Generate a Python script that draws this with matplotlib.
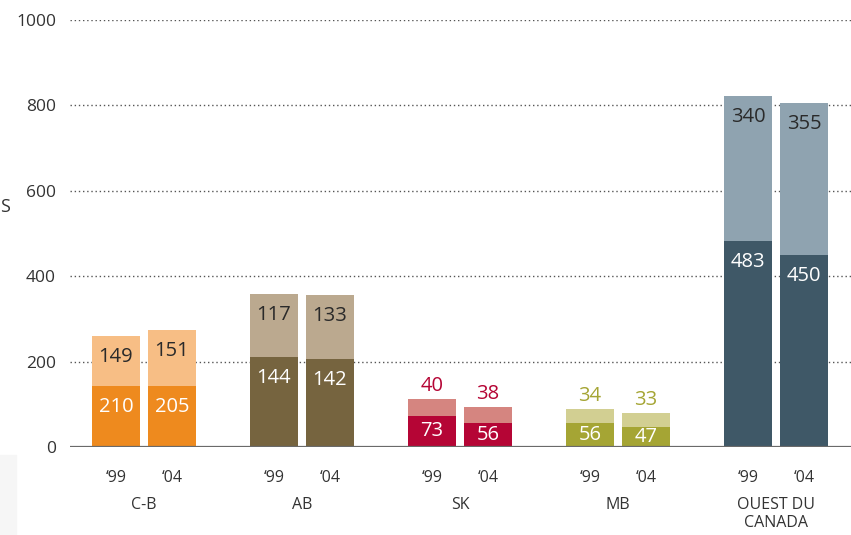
import matplotlib
matplotlib.use("Agg")
import matplotlib.pyplot as plt
from matplotlib.patches import Rectangle

plt.rcParams['font.family'] = ['Open Sans', 'DejaVu Sans']

# ---- data ----
categories = ["C-B", "AB", "SK", "MB", "OUEST DU\nCANADA"]
years = ["‘99", "‘04"]
# bar heights as drawn (lower / upper segment), per category: ['99, '04]
bottom_vals = [[144, 142], [210, 205], [73, 56], [56, 47], [483, 450]]
top_vals = [[117, 133], [149, 151], [40, 38], [34, 33], [340, 355]]
# numbers printed on the bars, as in the reference
bottom_labels = [["210", "205"], ["144", "142"], ["73", "56"], ["56", "47"], ["483", "450"]]
top_labels = [["149", "151"], ["117", "133"], ["40", "38"], ["34", "33"], ["340", "355"]]
yticks = [0, 200, 400, 600, 800, 1000]

bottom_colors = ["#EE8A1E", "#76643F", "#B50535", "#A5A534", "#3F5867"]
top_colors = ["#F7BE85", "#BBA98F", "#D58580", "#D2CF92", "#8FA3B0"]
outside_top = [False, False, True, True, False]

W, H = 851, 535
fig = plt.figure(figsize=(W / 100, H / 100), dpi=100)
ax = fig.add_axes([70 / W, (H - 447) / H, 1 - 70 / W, (447 - 20) / H])
ax.set_ylim(0, 1000)
ax.set_xlim(-0.468, 4.475)

bw = 48 / 158
off = 28 / 158
pxu = 427 / 1000  # pixels per unit

for i, cat in enumerate(categories):
    for j in range(2):
        x = i + (-off if j == 0 else off)
        b = bottom_vals[i][j]
        t = top_vals[i][j]
        ax.bar(x, b, width=bw, color=bottom_colors[i], zorder=3)
        ax.bar(x, t, width=bw, bottom=b, color=top_colors[i], zorder=3)
        # lower label
        yb = max(b - 21 / pxu, b / 2)
        ax.text(x, yb, bottom_labels[i][j], ha='center', va='center',
                color='white', fontsize=14.5, zorder=4)
        if outside_top[i]:
            ax.text(x, b + t + 6, top_labels[i][j], ha='center', va='bottom',
                    color=bottom_colors[i], fontsize=14.5, zorder=4)
        else:
            yt = max(b + t - 21 / pxu, b + t / 2)
            ax.text(x, yt, top_labels[i][j], ha='center', va='center',
                    color='#2a2a2a', fontsize=14.5, zorder=4)
        ax.text(x, -31 / pxu, years[j], ha='center', va='center',
                color='#333333', fontsize=11.5, clip_on=False)
    ax.text(i, -50 / pxu, cat, ha='center', va='top', color='#333333',
            fontsize=11.5, linespacing=1.2, clip_on=False)

ax.set_yticks(yticks)
ax.set_yticklabels([str(v) for v in yticks], fontsize=12.5, color='#333333')
ax.tick_params(axis='y', length=0, pad=10)
ax.tick_params(axis='x', bottom=False, labelbottom=False)
for v in yticks[1:]:
    ax.axhline(v, color='#555555', lw=1.0, ls=(0, (1, 2)), zorder=1)
ax.axhline(0, color='#6a6a6a', lw=1.6, zorder=5)
for s in ax.spines.values():
    s.set_visible(False)

# visible fragment of the axis title at the left edge
fig.text(0.5 / W, 1 - 207 / H, "S", ha='left', va='center',
         fontsize=13, color='#333333')
# faint panel at bottom left
fig.patches.append(Rectangle((0, 0), 16 / W, (535 - 455) / H,
                             transform=fig.transFigure, color='#f6f6f6', zorder=0))

fig.savefig("out.png", dpi=100)
